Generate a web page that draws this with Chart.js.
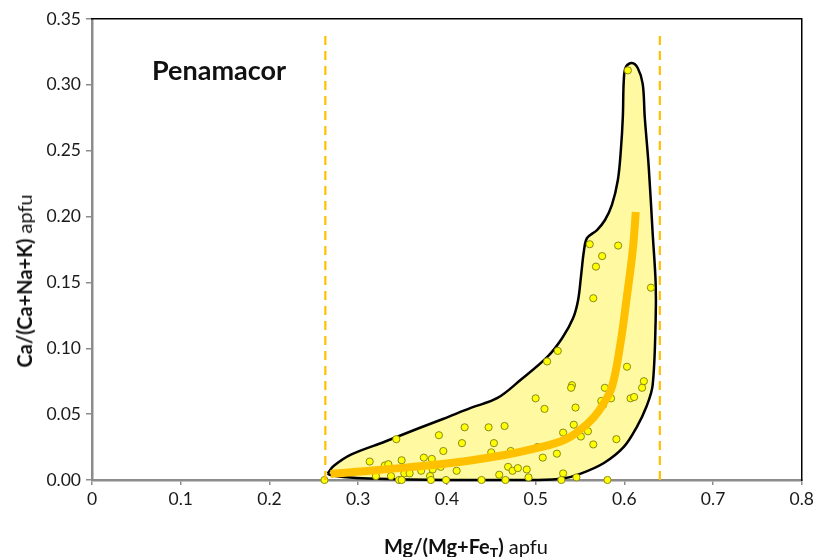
<!DOCTYPE html>
<html>
<head>
<meta charset="utf-8">
<script src="https://cdn.jsdelivr.net/npm/chart.js@4.4.1/dist/chart.umd.min.js"></script>
<style>
  html, body { margin: 0; padding: 0; background: #fff; }
  #wrap { position: relative; width: 818px; height: 557px; font-family: Lato, "Open Sans", sans-serif; color: #111; }
  #c { position: absolute; left: 0; top: 0; }
  .lbl { position: absolute; white-space: nowrap; line-height: 1; }
  #ytitle { left: 24px; top: 281px; transform: translate(-50%, -50%) rotate(-90deg); font-size: 20px; }
  #xtitle { left: 466px; top: 546px; transform: translate(-50%, -50%); font-size: 20px; }
  #site { left: 152px; top: 56px; font-size: 27px; font-weight: bold; }
  sub { font-size: 70%; vertical-align: -0.25em; line-height: 0; }
</style>
</head>
<body>
<div id="wrap">
  <canvas id="c" width="818" height="557"></canvas>
  <div class="lbl" id="ytitle"><b>Ca/(Ca+Na+K)</b> apfu</div>
  <div class="lbl" id="xtitle"><b>Mg/(Mg+Fe<sub>T</sub>)</b> apfu</div>
  <div class="lbl" id="site">Penamacor</div>
</div>
<script>
// ---- data ----
const xTickValues = [0, 0.1, 0.2, 0.3, 0.4, 0.5, 0.6, 0.7, 0.8];
const yTickValues = [0, 0.05, 0.10, 0.15, 0.20, 0.25, 0.30, 0.35];

const sampleX = [0.604,0.561,0.593,0.575,0.568,0.630,0.565,0.525,0.513,0.603,
                 0.622,0.620,0.541,0.540,0.578,0.500,0.607,0.611,0.585,0.574,
                 0.510,0.545,0.576,0.543,0.531,0.559,0.551,0.591,0.565,0.502,
                 0.508,0.524,0.531,0.529,0.546,0.581,0.391,0.420,0.447,0.465,
                 0.417,0.453,0.396,0.450,0.472,0.393,0.411,0.469,0.474,0.480,
                 0.490,0.459,0.492,0.399,0.439,0.466,0.343,0.313,0.330,0.334,
                 0.349,0.374,0.383,0.320,0.337,0.352,0.358,0.371,0.384,0.381,
                 0.346,0.349,0.382,0.262];
const sampleY = [0.311,0.179,0.178,0.170,0.162,0.146,0.138,0.098,0.090,0.086,
                 0.075,0.070,0.072,0.070,0.070,0.062,0.062,0.063,0.062,0.060,
                 0.054,0.055,0.057,0.042,0.036,0.037,0.033,0.031,0.027,0.025,
                 0.017,0.020,0.005,0.000,0.002,0.000,0.034,0.040,0.040,0.041,
                 0.028,0.028,0.022,0.021,0.022,0.010,0.007,0.010,0.007,0.009,
                 0.008,0.004,0.002,0.000,0.000,0.000,0.031,0.014,0.011,0.012,
                 0.015,0.017,0.016,0.003,0.003,0.005,0.005,0.007,0.008,0.003,
                 0.000,0.000,0.000,0.000];

const envelopeX = [0.2655,0.2723,0.2924,0.3305,0.3675,0.3955,0.4269,0.4571,0.4829,0.5132,
                   0.5300,0.5423,0.5479,0.5513,0.5546,0.5580,0.5692,0.5782,0.5860,0.5927,
                   0.5961,0.5983,0.5994,0.6017,0.6084,0.6151,0.6207,0.6230,0.6275,0.6319,
                   0.6353,0.6353,0.6319,0.6252,0.6140,0.5994,0.5770,0.5501,0.5311,0.5020,
                   0.4011,0.3115,0.2835,0.2689,0.2655];
const envelopeY = [0.0049,0.0106,0.0194,0.0292,0.0391,0.0463,0.0547,0.0623,0.0759,0.0934,
                   0.1078,0.1230,0.1367,0.1556,0.1746,0.1837,0.1898,0.1974,0.2088,0.2278,
                   0.2506,0.2756,0.3037,0.3136,0.3166,0.3128,0.3007,0.2756,0.2376,0.1875,
                   0.1496,0.1215,0.0721,0.0562,0.0402,0.0251,0.0129,0.0046,0.0011,0.0000,
                   0.0000,0.0011,0.0023,0.0038,0.0049];

const trendX = [0.2689,0.3227,0.4045,0.4650,0.5020,0.5322,0.5501,0.5658,0.5770,0.5860,0.5950,0.6028,0.6095,0.6129];
const trendY = [0.0046,0.0076,0.0129,0.0190,0.0243,0.0304,0.0380,0.0478,0.0585,0.0706,0.1010,0.1389,0.1746,0.2035];

const limitLowX = 0.263;
const limitHighX = 0.640;
const limitSpanY = [0, 0.34];

// ---- build datasets ----
const pts = (xs, ys) => xs.map((x, i) => ({ x: x, y: ys[i] }));

const datasets = [
  {
    label: 'envelope',
    data: pts(envelopeX, envelopeY),
    showLine: true,
    fill: 'shape',
    backgroundColor: '#FFFAA2',
    borderColor: '#000000',
    borderWidth: 2.5,
    tension: 0.35,
    pointRadius: 0,
    clip: false,
    order: 5
  },
  {
    label: 'samples',
    data: pts(sampleX, sampleY),
    showLine: false,
    pointRadius: 3.6,
    pointBackgroundColor: '#FFFF00',
    pointBorderColor: '#8A8A1A',
    pointBorderWidth: 1,
    clip: false,
    order: 4
  },
  {
    label: 'trend',
    data: pts(trendX, trendY),
    showLine: true,
    borderColor: '#FFC000',
    borderWidth: 8,
    borderCapStyle: 'butt',
    tension: 0.4,
    pointRadius: 0,
    fill: false,
    order: 3
  },
  {
    label: 'lowLimit',
    data: pts([limitLowX, limitLowX], limitSpanY),
    showLine: true,
    borderColor: '#FFC000',
    borderWidth: 2.2,
    borderDash: [9, 6],
    pointRadius: 0,
    fill: false,
    order: 2
  },
  {
    label: 'highLimit',
    data: pts([limitHighX, limitHighX], limitSpanY),
    showLine: true,
    borderColor: '#FFC000',
    borderWidth: 2.2,
    borderDash: [9, 6],
    pointRadius: 0,
    fill: false,
    order: 2
  }
];

const tickFont = { family: 'Lato, "Open Sans", sans-serif', size: 17.5 };

new Chart(document.getElementById('c'), {
  type: 'scatter',
  data: { datasets: datasets },
  options: {
    responsive: false,
    animation: false,
    devicePixelRatio: 1,
    layout: { padding: { left: 0, right: 12, top: 19, bottom: 0 } },
    plugins: { legend: { display: false }, tooltip: { enabled: false } },
    scales: {
      x: {
        type: 'linear', position: 'bottom', min: 0, max: 0.8,
        afterBuildTicks: s => { s.ticks = xTickValues.map(v => ({ value: v })); },
        afterFit: s => { s.height = 77; },
        ticks: { font: tickFont, color: '#1a1a1a', padding: 4,
                 callback: v => (v === 0 ? '0' : v.toFixed(1)), maxRotation: 0 },
        grid: { display: true, drawOnChartArea: false, drawTicks: true, tickLength: 5, color: '#8C8C8C', lineWidth: 1.5 },
        border: { display: true, color: '#8C8C8C', width: 2.5 }
      },
      y: {
        type: 'linear', position: 'left', min: 0, max: 0.35,
        afterBuildTicks: s => { s.ticks = yTickValues.map(v => ({ value: v })); },
        afterFit: s => { s.width = 92; },
        ticks: { font: tickFont, color: '#1a1a1a', padding: 5, callback: v => v.toFixed(2) },
        grid: { display: true, drawOnChartArea: false, drawTicks: true, tickLength: 6, color: '#8C8C8C', lineWidth: 1.5 },
        border: { display: true, color: '#8C8C8C', width: 2.5 }
      },
      xTop: {
        type: 'linear', position: 'top', min: 0, max: 0.8,
        afterFit: s => { s.height = 0; },
        ticks: { display: false },
        grid: { display: false },
        border: { display: true, color: '#000000', width: 1.5 }
      },
      yRight: {
        type: 'linear', position: 'right', min: 0, max: 0.35,
        afterFit: s => { s.width = 0; },
        ticks: { display: false },
        grid: { display: false },
        border: { display: true, color: '#000000', width: 1.5 }
      }
    }
  }
});
</script>
</body>
</html>
